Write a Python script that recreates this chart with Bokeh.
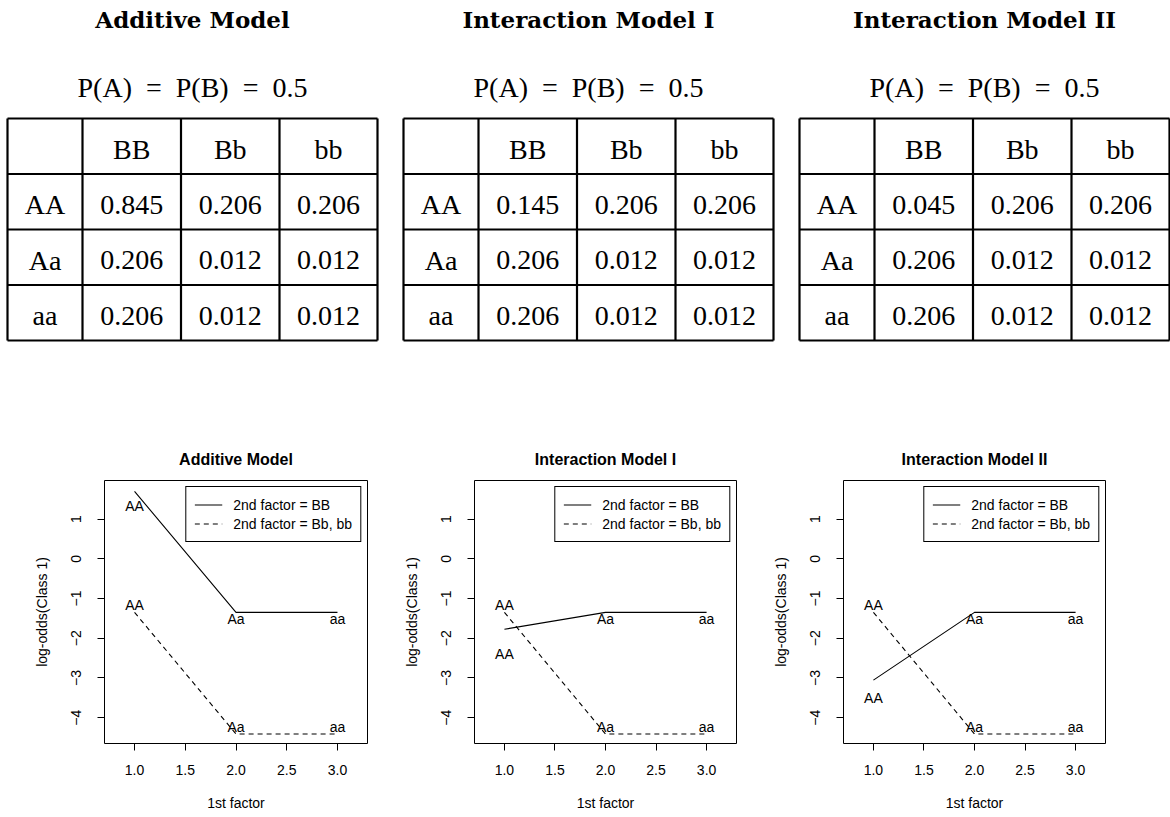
import math

from bokeh.core.properties import value
from bokeh.embed import file_html
from bokeh.layouts import column, row
from bokeh.models import (CustomJSTickFormatter, FixedTicker, Legend,
                          LegendItem, Range1d)
from bokeh.plotting import figure
from bokeh.resources import INLINE

# ---------------------------------------------------------------- data
model_names = ["Additive Model", "Interaction Model I", "Interaction Model II"]
marginal_text = "P(A)\u2002=\u2002P(B)\u2002=\u20020.5"
first_factor = ["AA", "Aa", "aa"]
second_factor = ["BB", "Bb", "bb"]

# P(Class 1 | genotype); rows = first factor, columns = second factor
prob_additive = [[0.845, 0.206, 0.206],
                 [0.206, 0.012, 0.012],
                 [0.206, 0.012, 0.012]]
prob_interaction_1 = [[0.145, 0.206, 0.206],
                      [0.206, 0.012, 0.012],
                      [0.206, 0.012, 0.012]]
prob_interaction_2 = [[0.045, 0.206, 0.206],
                      [0.206, 0.012, 0.012],
                      [0.206, 0.012, 0.012]]
model_tables = [prob_additive, prob_interaction_1, prob_interaction_2]

first_factor_level = [1, 2, 3]
x_ticks = [1.0, 1.5, 2.0, 2.5, 3.0]
y_ticks = [-4, -3, -2, -1, 0, 1]
legend_labels = ["2nd factor = BB", "2nd factor = Bb, bb"]


def log_odds(p):
    return math.log(p / (1.0 - p))


# ---------------------------------------------------------------- tables
PAGE_W = 1170
TOP_H = 400
serif = "Liberation Serif"

tables = figure(width=PAGE_W, height=TOP_H, x_range=Range1d(0, PAGE_W),
                y_range=Range1d(TOP_H, 0), output_backend="svg",
                toolbar_location=None, x_axis_location=None,
                y_axis_location=None, min_border=0)
tables.grid.visible = False
tables.outline_line_color = None
tables.background_fill_color = "white"
tables.border_fill_color = "white"

table_left0 = 7
table_step = 396
col_widths = [75, 98.5, 98.5, 98]
row_top = 118
row_h = 55.5
n_rows = 4

for k, (name, probs) in enumerate(zip(model_names, model_tables)):
    left = table_left0 + k * table_step
    edges = [left]
    for w in col_widths:
        edges.append(edges[-1] + w)
    right = edges[-1]
    bottom = row_top + n_rows * row_h
    centre = (left + right) / 2

    # grid lines of the table
    xs0 = edges + [left] * (n_rows + 1)
    xs1 = edges + [right] * (n_rows + 1)
    ys0 = [row_top] * len(edges) + [row_top + i * row_h for i in range(n_rows + 1)]
    ys1 = [bottom] * len(edges) + [row_top + i * row_h for i in range(n_rows + 1)]
    tables.segment(x0=xs0, y0=ys0, x1=xs1, y1=ys1, line_color="black",
                   line_width=2.2)

    # headings above each table
    tables.text(x=[centre], y=[19], text=[name], text_align="center",
                text_baseline="middle", text_font=value("DejaVu Serif"),
                text_font_style="bold", text_font_size="23px",
                text_color="black")
    tables.text(x=[centre], y=[87], text=[marginal_text], text_align="center",
                text_baseline="middle", text_font=value(serif),
                text_font_size="28px", text_color="black")

    col_c = [(edges[i] + edges[i + 1]) / 2 for i in range(4)]
    cell_x, cell_y, cell_t = [], [], []
    # header row
    for j, g in enumerate(second_factor):
        cell_x.append(col_c[j + 1])
        cell_y.append(row_top + 0.5 * row_h + 3.5)
        cell_t.append(g)
    # body rows
    for i, g in enumerate(first_factor):
        mid = row_top + (i + 1.5) * row_h + 3
        cell_x.append(col_c[0])
        cell_y.append(mid)
        cell_t.append(g)
        for j in range(3):
            cell_x.append(col_c[j + 1])
            cell_y.append(mid)
            cell_t.append(f"{probs[i][j]:.3f}")
    tables.text(x=cell_x, y=cell_y, text=cell_t, text_align="center",
                text_baseline="middle", text_font=value(serif),
                text_font_size="28px", text_color="black")

# ---------------------------------------------------------------- line plots
sans = "Liberation Sans"
frame_w = [263, 262, 262]
border_l = [104, 97, 97]
border_r = [10, 10, 65]
# extra downward nudge (px) of the "AA" label on the solid line
aa_drop = [8, 18, 11]

plots = []
for k, (name, probs) in enumerate(zip(model_names, model_tables)):
    y_bb = [log_odds(probs[i][0]) for i in range(3)]
    y_bx = [log_odds(probs[i][1]) for i in range(3)]

    p = figure(frame_width=frame_w[k], frame_height=263,
               min_border_left=border_l[k], min_border_right=border_r[k],
               min_border_top=80, min_border_bottom=74,
               x_range=Range1d(0.704, 3.296), y_range=Range1d(-4.65, 1.97),
               output_backend="svg", toolbar_location=None, title=name)
    p.grid.visible = False
    p.background_fill_color = "white"
    p.border_fill_color = "white"
    p.outline_line_color = "black"
    p.outline_line_width = 1
    p.outline_line_alpha = 1

    p.title.align = "center"
    p.title.text_font = sans
    p.title.text_font_size = "16px"
    p.title.text_font_style = "bold"
    p.title.text_color = "black"
    p.title.standoff = 25

    for ax in (p.xaxis[0], p.yaxis[0]):
        ax.axis_line_color = None
        ax.major_tick_line_color = "black"
        ax.major_tick_out = 7
        ax.major_tick_in = 0
        ax.minor_tick_line_color = None
        ax.major_label_text_font = sans
        ax.major_label_text_font_size = "14px"
        ax.major_label_text_color = "black"
        ax.axis_label_text_font = sans
        ax.axis_label_text_font_size = "14px"
        ax.axis_label_text_font_style = "normal"
        ax.axis_label_text_color = "black"

    p.xaxis.ticker = FixedTicker(ticks=x_ticks)
    p.xaxis.formatter = CustomJSTickFormatter(code="return tick.toFixed(1);")
    p.xaxis.major_label_standoff = 14
    p.xaxis.axis_label = "1st factor"
    p.xaxis.axis_label_standoff = 17

    p.yaxis.ticker = FixedTicker(ticks=y_ticks)
    p.yaxis.formatter = CustomJSTickFormatter(
        code="return (tick < 0 ? '\u2212' : '') + Math.abs(tick).toFixed(0);")
    p.yaxis.major_label_orientation = "vertical"
    p.yaxis.major_label_standoff = 16
    p.yaxis.axis_label = "log-odds(Class 1)"
    p.yaxis.axis_label_standoff = 19

    r_bb = p.line(first_factor_level, y_bb, line_color="black", line_width=1.1)
    r_bx = p.line(first_factor_level, y_bx, line_color="black", line_width=1.1,
                  line_dash="5 4")

    # genotype labels: below the solid line, above the dashed line
    p.text(x=first_factor_level, y=y_bb, text=first_factor,
           text_align="center", text_baseline="middle",
           y_offset=[7 + aa_drop[k], 7, 7],
           text_font=value(sans), text_font_size="14px", text_color="black")
    p.text(x=first_factor_level, y=y_bx, text=first_factor,
           text_align="center", text_baseline="middle", y_offset=-7,
           text_font=value(sans), text_font_size="14px", text_color="black")

    legend = Legend(items=[LegendItem(label=legend_labels[0], renderers=[r_bb]),
                           LegendItem(label=legend_labels[1], renderers=[r_bx])],
                    location="top_right", margin=6, padding=8, spacing=0,
                    glyph_width=28, glyph_height=19, label_height=19,
                    label_standoff=11, label_text_font=sans,
                    label_text_font_size="14px", label_text_color="black",
                    border_line_color="black", border_line_width=1,
                    border_line_alpha=1, background_fill_alpha=1)
    p.add_layout(legend)
    plots.append(p)

page = column(tables, row(*plots, spacing=0), spacing=0)

open("out.html", "w").write(file_html(page, INLINE))
